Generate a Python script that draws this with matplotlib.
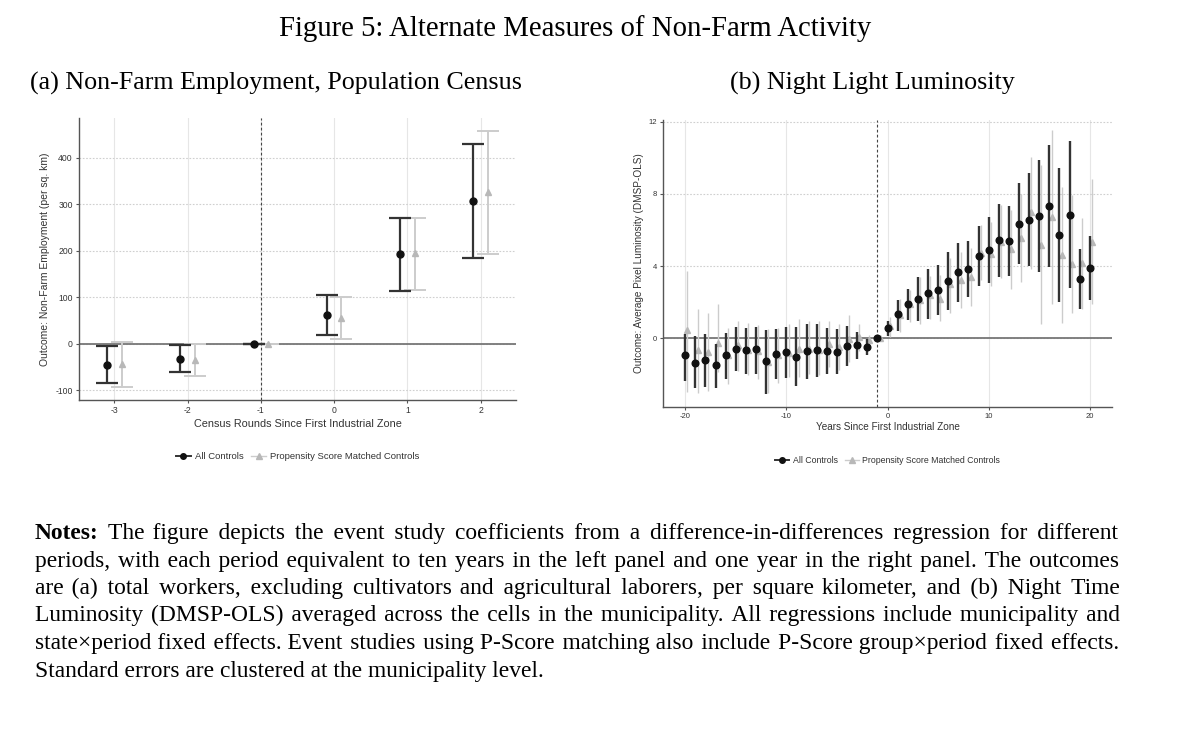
import numpy as np
import matplotlib
matplotlib.use("Agg")
from matplotlib import pyplot as plt
from matplotlib.lines import Line2D

# ---------------- data ----------------
census_rounds = [-3, -2, -1, 0, 1, 2]
emp_all = [-45, -32, 0, 61, 192, 307]
emp_all_lo = [-84, -61, 0, 18, 113, 184]
emp_all_hi = [-6, -3, 0, 104, 271, 429]
emp_psm = [-44, -34, 0, 56, 195, 325]
emp_psm_lo = [-94, -69, 0, 10, 115, 193]
emp_psm_hi = [4, 0, 0, 100, 271, 456]

years = list(range(-20, 21))
lum_all = [-0.95, -1.35, -1.22, -1.47, -0.95, -0.57, -0.67, -0.62, -1.28, -0.85,
           -0.76, -1.04, -0.72, -0.67, -0.70, -0.74, -0.41, -0.40, -0.50, 0.0,
           0.55, 1.32, 1.92, 2.19, 2.48, 2.68, 3.18, 3.67, 3.84, 4.53,
           4.90, 5.45, 5.40, 6.35, 6.57, 6.77, 7.31, 5.71, 6.83, 3.27, 3.89]
lum_all_lo = [-2.37, -2.76, -2.70, -2.74, -2.24, -1.81, -1.96, -2.00, -3.10, -2.26,
              -2.18, -2.66, -2.24, -2.14, -1.96, -1.96, -1.55, -1.13, -0.91, 0.0,
              0.14, 0.41, 1.00, 0.94, 1.09, 1.31, 1.59, 2.01, 2.26, 2.88,
              3.07, 3.40, 3.44, 4.10, 3.99, 3.65, 3.94, 2.01, 2.77, 1.63, 2.10]
lum_all_hi = [0.26, 0.11, 0.22, -0.30, 0.30, 0.63, 0.54, 0.63, 0.48, 0.52,
              0.63, 0.62, 0.78, 0.81, 0.54, 0.50, 0.70, 0.33, -0.03, 0.0,
              0.98, 2.11, 2.75, 3.40, 3.81, 4.05, 4.75, 5.29, 5.38, 6.21,
              6.69, 7.46, 7.35, 8.60, 9.13, 9.87, 10.68, 9.45, 10.92, 4.92, 5.69]
lum_psm = [0.44, -0.67, -0.75, -0.29, -0.94, -0.39, -0.67, -0.70, -1.30, -0.95,
           -0.80, -0.57, -0.57, -0.63, -0.30, -0.48, -0.02, 0.07, -0.11, 0.0,
           0.67, 1.28, 1.89, 2.14, 2.37, 2.20, 2.99, 3.25, 3.40, 4.73,
           4.66, 5.34, 4.92, 5.58, 6.97, 5.16, 6.73, 4.62, 4.14, 4.18, 5.34]
lum_psm_lo = [-2.98, -3.05, -2.90, -1.85, -2.51, -1.80, -2.05, -2.24, -3.05, -2.48,
              -2.14, -2.14, -1.96, -2.05, -1.60, -1.77, -1.31, -0.70, -0.52, 0.0,
              0.07, 0.35, 0.91, 0.81, 1.04, 0.94, 1.37, 1.70, 1.77, 3.25,
              2.88, 3.31, 2.70, 3.09, 3.81, 0.81, 1.92, 0.85, 1.40, 1.60, 1.87]
lum_psm_hi = [3.73, 1.63, 1.37, 1.87, 0.59, 0.96, 0.85, 0.72, 0.50, 0.54,
              0.81, 1.09, 0.98, 0.93, 0.98, 0.78, 1.26, 0.81, 0.20, 0.0,
              1.18, 2.18, 2.66, 3.40, 3.46, 3.49, 4.42, 4.79, 4.99, 6.30,
              6.43, 7.38, 7.10, 7.99, 10.06, 9.60, 11.54, 8.39, 7.93, 6.66, 8.82]

series_labels = ["All Controls", "Propensity Score Matched Controls"]

title = "Figure 5: Alternate Measures of Non-Farm Activity"
panel_titles = ["(a) Non-Farm Employment, Population Census", "(b) Night Light Luminosity"]
notes_head = "Notes:"
notes_lines = [
    "The figure depicts the event study coefficients from a difference-in-differences regression for different",
    "periods, with each period equivalent to ten years in the left panel and one year in the right panel. The outcomes",
    "are (a) total workers, excluding cultivators and agricultural laborers, per square kilometer, and (b) Night Time",
    "Luminosity (DMSP-OLS) averaged across the cells in the municipality. All regressions include municipality and",
    "state\u00d7period fixed effects. Event studies using P-Score matching also include P-Score group\u00d7period fixed effects.",
    "Standard errors are clustered at the municipality level.",
]

# ---------------- style ----------------
plt.rcParams['font.family'] = ['Liberation Sans', 'DejaVu Sans']
plt.rcParams['axes.unicode_minus'] = False
BLACK_PT = "#111111"
BLACK_LN = "#333333"
GRAY_PT = "#b8b8b8"
GRAY_LN = "#cccccc"
SERIF = ["Liberation Serif", "DejaVu Serif"]

W, H = 1179, 732
fig = plt.figure(figsize=(W / 100, H / 100), dpi=100)


def px_axes(x0, y0, x1, y1):
    return fig.add_axes([x0 / W, 1 - y1 / H, (x1 - x0) / W, (y1 - y0) / H])


def style_axes(ax, tick_fs):
    for s in ["top", "right"]:
        ax.spines[s].set_visible(False)
    for s in ["left", "bottom"]:
        ax.spines[s].set_color("#555555")
        ax.spines[s].set_linewidth(1.0)
    ax.tick_params(axis="both", labelsize=tick_fs, colors="#555555", length=2.5, width=0.8,
                   labelcolor="#333333", pad=2)
    ax.grid(axis="y", color="#cfcfcf", linestyle=(0, (1.5, 1.5)), linewidth=0.8)
    ax.grid(axis="x", color="#e6e6e6", linestyle="-", linewidth=0.8)
    ax.set_axisbelow(True)


# ---------------- panel (a) ----------------
ax1 = px_axes(79, 118, 516, 400)
style_axes(ax1, 6.2)
ax1.set_xlim(-3.48, 2.48)
ax1.set_ylim(-121, 485)
ax1.set_xticks(census_rounds)
ax1.set_yticks([-100, 0, 100, 200, 300, 400])
ax1.axhline(0, color="#777777", lw=1.3, zorder=1)
ax1.axvline(-1, color="#444444", lw=0.8, ls=(0, (2.5, 2)), zorder=1)

xa = np.array(census_rounds, dtype=float)
e_psm = [np.array(emp_psm) - np.array(emp_psm_lo), np.array(emp_psm_hi) - np.array(emp_psm)]
e_all = [np.array(emp_all) - np.array(emp_all_lo), np.array(emp_all_hi) - np.array(emp_all)]
ax1.errorbar(xa + 0.1, emp_psm, yerr=e_psm, fmt="^", color=GRAY_PT, ecolor=GRAY_LN,
             elinewidth=1.4, capsize=8, capthick=1.4, markersize=5, zorder=3)
ax1.errorbar(xa - 0.1, emp_all, yerr=e_all, fmt="o", color=BLACK_PT, ecolor=BLACK_LN,
             elinewidth=1.6, capsize=8, capthick=1.6, markersize=5, zorder=4)
ax1.set_xlabel("Census Rounds Since First Industrial Zone", fontsize=7.8, color="#333333", labelpad=3)
ax1.set_ylabel("Outcome: Non-Farm Employment (per sq. km)", fontsize=7.5, color="#333333", labelpad=4)

# ---------------- panel (b) ----------------
ax2 = px_axes(663, 120, 1112, 407)
style_axes(ax2, 5.5)
ax2.set_xlim(-22.2, 22.2)
ax2.set_ylim(-3.81, 12.09)
ax2.set_xticks([-20, -10, 0, 10, 20])
ax2.set_yticks([0, 4, 8, 12])
ax2.axhline(0, color="#777777", lw=1.3, zorder=1)
ax2.axvline(-1, color="#444444", lw=0.8, ls=(0, (2.5, 2)), zorder=1)

xb = np.array(years, dtype=float)
l_psm = [np.array(lum_psm) - np.array(lum_psm_lo), np.array(lum_psm_hi) - np.array(lum_psm)]
l_all = [np.array(lum_all) - np.array(lum_all_lo), np.array(lum_all_hi) - np.array(lum_all)]
ax2.errorbar(xb + 0.22, lum_psm, yerr=l_psm, fmt="^", color=GRAY_PT, ecolor=GRAY_LN,
             elinewidth=1.0, capsize=0, markersize=4.8, zorder=3)
ax2.errorbar(xb, lum_all, yerr=l_all, fmt="o", color=BLACK_PT, ecolor=BLACK_LN,
             elinewidth=1.7, capsize=0, markersize=4.8, zorder=4)
ax2.set_xlabel("Years Since First Industrial Zone", fontsize=7.2, color="#333333", labelpad=1)
ax2.set_ylabel("Outcome: Average Pixel Luminosity (DMSP-OLS)", fontsize=7.2, color="#333333", labelpad=3)

# legends
handles = [Line2D([], [], color=BLACK_LN, marker="o", markerfacecolor=BLACK_PT,
                  markeredgecolor=BLACK_PT, markersize=4, lw=1.4),
           Line2D([], [], color=GRAY_LN, marker="^", markerfacecolor=GRAY_PT,
                  markeredgecolor=GRAY_PT, markersize=4, lw=1.0)]
for ax, yoff, fs in [(ax1, -0.202, 6.8), (ax2, -0.186, 6.3)]:
    ax.legend(handles, series_labels, loc="center", bbox_to_anchor=(0.5, yoff), ncol=2,
              frameon=False, fontsize=fs, handlelength=1.6, handletextpad=0.4,
              columnspacing=0.8, labelcolor="#333333")

# ---------------- titles and notes ----------------
fig.text(575 / W, 1 - 36 / H, title, family=SERIF, fontsize=20.7, ha="center", va="baseline")
fig.text(30 / W, 1 - 90 / H, panel_titles[0], family=SERIF, fontsize=18.7, ha="left", va="baseline")
fig.text(730 / W, 1 - 90 / H, panel_titles[1], family=SERIF, fontsize=18.7, ha="left", va="baseline")

fig.canvas.draw()
renderer = fig.canvas.get_renderer()

notes_fs = 16.9
HAIR = "\u200a"


def text_width(s, weight="normal"):
    t = fig.text(0, 0, s, family=SERIF, fontsize=notes_fs, fontweight=weight)
    w = t.get_window_extent(renderer).width
    t.remove()
    return w


hair_w = (text_width("a" + HAIR * 40 + "a") - text_width("aa")) / 40
space_w = text_width("a a") - text_width("aa")


def justify(words, target):
    # pad the gaps with hair spaces so the line fills the target width
    natural = text_width(" ".join(words))
    n_h = max(0, int(round((target - natural) / hair_w))) if hair_w > 0 else 0
    gaps = len(words) - 1
    out = words[0]
    for k in range(gaps):
        nh = (n_h * (k + 1)) // gaps - (n_h * k) // gaps
        out += " " + HAIR * nh + words[k + 1]
    return out


left_px, right_px = 35, 1119
baseline0, spacing = 539, 27.5
for i, line in enumerate(notes_lines):
    y = 1 - (baseline0 + i * spacing) / H
    words = line.split(" ")
    x0 = left_px
    if i == 0:
        fig.text(left_px / W, y, notes_head, family=SERIF, fontsize=notes_fs,
                 fontweight="bold", ha="left", va="baseline")
        wb = text_width(notes_head, "bold")
        natural = text_width(line)
        avail = right_px - left_px - wb - space_w
        per_gap = max(0.0, (avail - natural) / len(words))
        x0 = left_px + wb + space_w + per_gap
    if i < len(notes_lines) - 1:
        s = justify(words, right_px - x0)
    else:
        s = line
    fig.text(x0 / W, y, s, family=SERIF, fontsize=notes_fs, ha="left", va="baseline")

fig.savefig("out.png", dpi=100, facecolor="white")
